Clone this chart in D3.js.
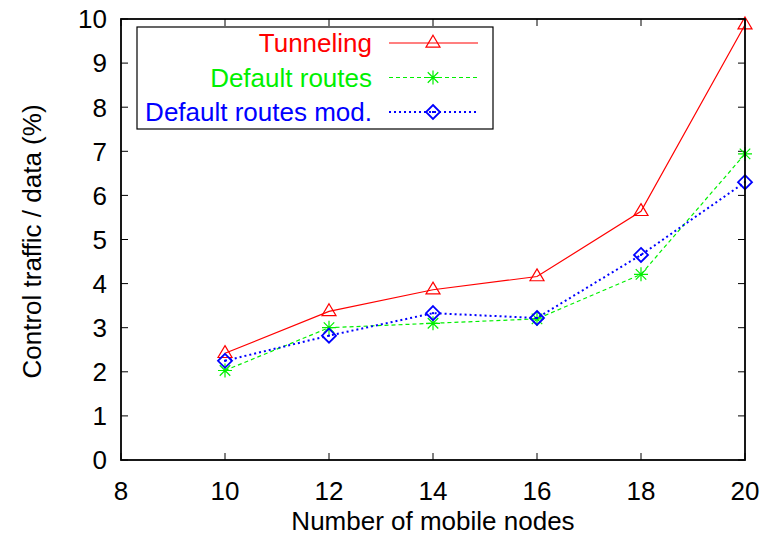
<!DOCTYPE html>
<html>
<head>
<meta charset="utf-8">
<script src="https://cdn.jsdelivr.net/npm/d3@7"></script>
<style>
  html, body { margin: 0; padding: 0; background: #fff; }
  svg { display: block; }
  text { font-family: "Liberation Sans", Arial, Helvetica, sans-serif; }
</style>
</head>
<body>
<svg id="chart" width="767" height="537"></svg>
<script>
// Number of mobile nodes in the simulation
const nodes = [10, 12, 14, 16, 18, 20];

// Control traffic relative to data traffic (%)
const tunneling = [2.42, 3.37, 3.86, 4.16, 5.64, 9.87];
const defaultRoutes = [2.03, 3.0, 3.1, 3.2, 4.21, 6.94];
const defaultRoutesMod = [2.25, 2.82, 3.33, 3.22, 4.65, 6.3];

const seriesNames = ["Tunneling", "Default routes", "Default routes mod."];

const xTicks = [8, 10, 12, 14, 16, 18, 20];
const yTicks = [0, 1, 2, 3, 4, 5, 6, 7, 8, 9, 10];

const series = [
  { name: seriesNames[0], values: tunneling, color: "#ff0000", dash: null, width: 1.2, marker: "triangle" },
  { name: seriesNames[1], values: defaultRoutes, color: "#00f000", dash: "4,3", width: 1.2, marker: "star" },
  { name: seriesNames[2], values: defaultRoutesMod, color: "#0000ff", dash: "2,3", width: 2, marker: "diamond" }
];

const svg = d3.select("#chart");
const plotLeft = 121, plotRight = 745, plotTop = 19, plotBottom = 460;

const x = d3.scaleLinear().domain([8, 20]).range([plotLeft, plotRight]);
const y = d3.scaleLinear().domain([0, 10]).range([plotBottom, plotTop]);

const fontSize = 26;
const tickLen = 7;

// inward ticks on all four sides
const axisG = svg.append("g").attr("stroke", "#000").attr("stroke-width", 1);
xTicks.forEach(t => {
  axisG.append("line").attr("x1", x(t)).attr("x2", x(t)).attr("y1", plotBottom).attr("y2", plotBottom - tickLen);
  axisG.append("line").attr("x1", x(t)).attr("x2", x(t)).attr("y1", plotTop).attr("y2", plotTop + tickLen);
});
yTicks.forEach(t => {
  axisG.append("line").attr("x1", plotLeft).attr("x2", plotLeft + tickLen).attr("y1", y(t)).attr("y2", y(t));
  axisG.append("line").attr("x1", plotRight).attr("x2", plotRight - tickLen).attr("y1", y(t)).attr("y2", y(t));
});

// tick labels
svg.append("g").selectAll("text").data(xTicks).join("text")
  .attr("x", d => x(d)).attr("y", plotBottom + 40)
  .attr("text-anchor", "middle").attr("font-size", fontSize)
  .text(d => d);
svg.append("g").selectAll("text").data(yTicks).join("text")
  .attr("x", plotLeft - 14).attr("y", d => y(d)).attr("dy", "0.36em")
  .attr("text-anchor", "end").attr("font-size", fontSize)
  .text(d => d);

// axis titles
svg.append("text").attr("x", (plotLeft + plotRight) / 2).attr("y", 530)
  .attr("text-anchor", "middle").attr("font-size", fontSize)
  .text("Number of mobile nodes");
svg.append("text")
  .attr("transform", `translate(41,${(plotTop + plotBottom) / 2 + 2}) rotate(-90)`)
  .attr("text-anchor", "middle").attr("font-size", fontSize)
  .text("Control traffic / data (%)");

// marker shapes
function drawMarker(g, type, cx, cy, color) {
  const s = 7;
  if (type === "triangle") {
    g.append("path")
      .attr("d", `M${cx},${cy - s * 1.1}L${cx + s},${cy + s * 0.6}L${cx - s},${cy + s * 0.6}Z`)
      .attr("fill", "none").attr("stroke", color).attr("stroke-width", 1.2);
  } else if (type === "diamond") {
    g.append("path")
      .attr("d", `M${cx},${cy - s}L${cx + s},${cy}L${cx},${cy + s}L${cx - s},${cy}Z`)
      .attr("fill", "none").attr("stroke", color).attr("stroke-width", 1.8);
    g.append("rect").attr("x", cx - 1).attr("y", cy - 1).attr("width", 2).attr("height", 2).attr("fill", color);
  } else if (type === "star") {
    g.append("path")
      .attr("d", `M${cx - s},${cy}L${cx + s},${cy}M${cx},${cy - s}L${cx},${cy + s}` +
                 `M${cx - s * 0.75},${cy - s * 0.75}L${cx + s * 0.75},${cy + s * 0.75}` +
                 `M${cx - s * 0.75},${cy + s * 0.75}L${cx + s * 0.75},${cy - s * 0.75}`)
      .attr("fill", "none").attr("stroke", color).attr("stroke-width", 1.2);
  }
}

// data lines and markers
const line = d3.line().x((d, i) => x(nodes[i])).y(d => y(d));
series.forEach(s => {
  const g = svg.append("g");
  g.append("path").datum(s.values).attr("d", line)
    .attr("fill", "none").attr("stroke", s.color).attr("stroke-width", s.width)
    .attr("stroke-dasharray", s.dash);
  s.values.forEach((v, i) => drawMarker(g, s.marker, x(nodes[i]), y(v), s.color));
});

// frame
svg.append("rect").attr("x", plotLeft).attr("y", plotTop)
  .attr("width", plotRight - plotLeft).attr("height", plotBottom - plotTop)
  .attr("fill", "none").attr("stroke", "#000").attr("stroke-width", 1.8);

// legend
const legend = svg.append("g");
legend.append("rect").attr("x", 137).attr("y", 27).attr("width", 356).attr("height", 102)
  .attr("fill", "#fff").attr("stroke", "#000").attr("stroke-width", 1.2);
series.forEach((s, i) => {
  const cy = 43 + i * 34.5;
  legend.append("text").attr("x", 372).attr("y", cy).attr("dy", "0.36em")
    .attr("text-anchor", "end").attr("font-size", fontSize).attr("fill", s.color)
    .text(s.name);
  legend.append("line").attr("x1", 389).attr("x2", 478).attr("y1", cy).attr("y2", cy)
    .attr("stroke", s.color).attr("stroke-width", s.width).attr("stroke-dasharray", s.dash);
  drawMarker(legend, s.marker, 433, cy, s.color);
});
</script>
</body>
</html>
